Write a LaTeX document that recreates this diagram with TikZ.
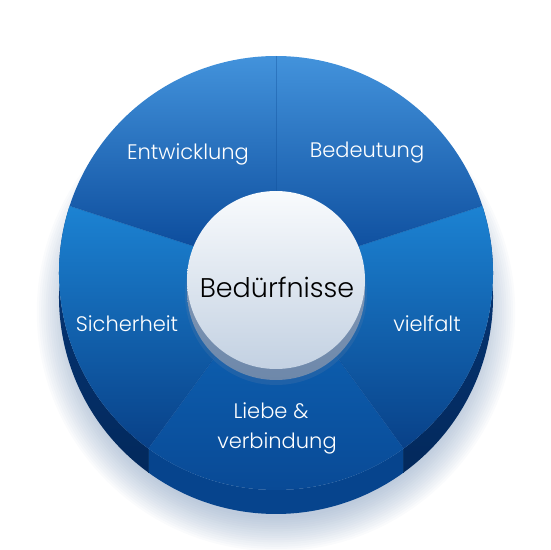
\documentclass[tikz,border=0pt]{standalone}
\usepackage{fontspec}
\setmainfont{Poppins}[UprightFont=* Light]
\definecolor{shadowc}{HTML}{5A7CA8}
\definecolor{topL}{HTML}{4393DC}
\definecolor{topD}{HTML}{0C4C9C}
\definecolor{sideL}{HTML}{1C83D3}
\definecolor{sideD}{HTML}{083F86}
\definecolor{botL}{HTML}{0D5DAD}
\definecolor{botD}{HTML}{094A96}
\definecolor{bandA}{HTML}{06387A}
\definecolor{bandB}{HTML}{03295C}
\definecolor{bandL}{HTML}{06448D}
\definecolor{sepc}{HTML}{0B4A95}
\definecolor{hubL}{HTML}{F9FBFD}
\definecolor{hubD}{HTML}{C3D1E2}
\definecolor{hubS}{HTML}{6E88AA}
\tikzset{
  lbl/.style={text=white, font=\fontsize{21}{24}\selectfont, align=center},
  hublbl/.style={text=black, font=\fontsize{27}{30}\selectfont},
}
\begin{document}
\begin{tikzpicture}[x=1pt,y=1pt]
\useasboundingbox (0,0) rectangle (550,550);
\def\R{217}
% soft shadow
\foreach \i in {1,...,16}
  \fill[shadowc, opacity=0.03] (276,238) circle ({204+2.2*\i});
% side bands (extrusion)
\foreach \a/\b/\c/\d in {162/234/bandA/bandB, 234/306/bandL/bandL, 306/378/bandA/bandB}{
  \shade[top color=\c, bottom color=\d]
    ([shift={(\a:\R)}]276,277) arc[start angle=\a, end angle=\b, radius=\R]
    -- ++(0,-24) arc[start angle=\b, end angle=\a, radius=\R] -- cycle;
}
% separators on the band
\draw[sepc!70!black, line width=0.6pt] ([shift={(234:\R)}]276,277) -- ++(0,-24);
\draw[sepc!70!black, line width=0.6pt] ([shift={(306:\R)}]276,277) -- ++(0,-24);
% sectors
\begin{scope}
  \clip (276,277) -- ++(90:\R) arc[start angle=90, end angle=162, radius=\R] -- cycle;
  \shade[top color=topL, bottom color=topD] (50,300) rectangle (500,495);
\end{scope}
\begin{scope}
  \clip (276,277) -- ++(18:\R) arc[start angle=18, end angle=90, radius=\R] -- cycle;
  \shade[top color=topL, bottom color=topD] (50,290) rectangle (500,495);
\end{scope}
\begin{scope}
  \clip (276,277) -- ++(162:\R) arc[start angle=162, end angle=234, radius=\R] -- cycle;
  \shade[top color=sideL, bottom color=sideD] (50,95) rectangle (500,345);
\end{scope}
\begin{scope}
  \clip (276,277) -- ++(306:\R) arc[start angle=306, end angle=378, radius=\R] -- cycle;
  \shade[top color=sideL, bottom color=sideD] (50,95) rectangle (500,345);
\end{scope}
\begin{scope}
  \clip (276,277) -- ++(234:\R) arc[start angle=234, end angle=306, radius=\R] -- cycle;
  \shade[top color=botL, bottom color=botD] (50,60) rectangle (500,200);
\end{scope}
% subtle separators
\foreach \a in {18,90,162,234,306}
  \draw[sepc, opacity=0.35, line width=0.8pt] (276,277) -- ++(\a:\R);
% hub
\fill[shadowc, opacity=0.25] (276,256) circle (91);
\shade[top color=hubS!80, bottom color=hubS] (276,259) circle (89);
\shade[top color=hubL, bottom color=hubD] (276,270) circle (89);
% labels
\node[lbl] (ent) at (188,396) {Entwicklung};
\node[lbl] (bed) at (367,397) {Bedeutung};
\node[lbl] (sic) at (127,226) {Sicherheit};
\node[lbl] (vie) at (427,226) {vielfalt};
\node[lbl] (lie) at (271,139) {Liebe \&};
\node[lbl] (ver) at (277,107) {verbindung};
\node[hublbl] (hub) at (277,263) {Bedürfnisse};
\end{tikzpicture}
\end{document}
